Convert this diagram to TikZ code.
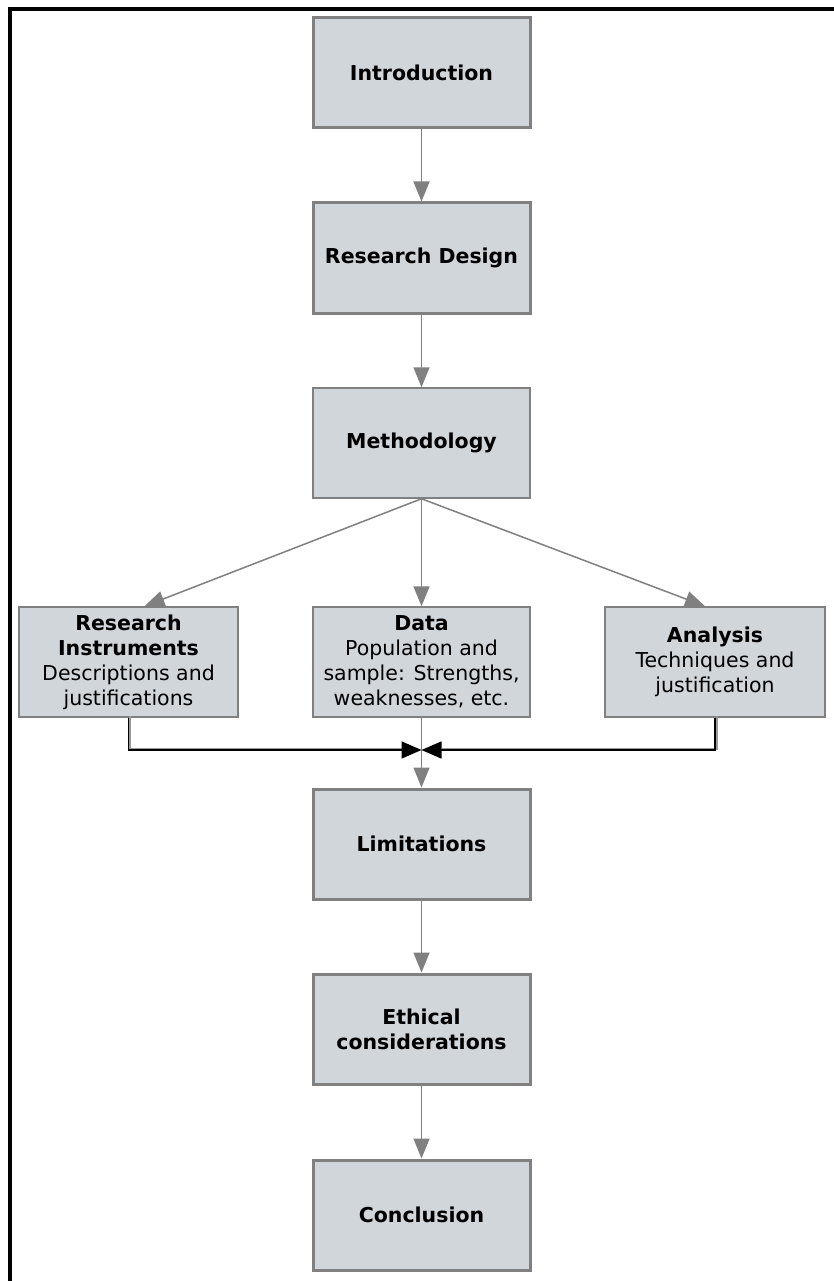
\documentclass[tikz,border=0pt]{standalone}
\usepackage{fontspec}
\setmainfont{DejaVu Sans}
\usetikzlibrary{arrows.meta}
\definecolor{boxfill}{RGB}{209,214,218}
\definecolor{boxline}{RGB}{128,128,128}
\definecolor{flowline}{RGB}{128,128,128}
\begin{document}
\begin{tikzpicture}[x=1pt,y=-1pt,
  stagebox/.style={draw=boxline, fill=boxfill, line width=3pt,
    minimum width=217pt, minimum height=110pt, inner sep=2pt,
    align=center, font=\fontsize{20.5}{25}\selectfont\bfseries},
  subbox/.style={draw=boxline, fill=boxfill, line width=1.5pt,
    minimum width=219pt, minimum height=110pt, inner sep=2pt,
    align=center, font=\fontsize{20.5}{25}\selectfont},
  flow/.style={draw=flowline, line width=1.5pt,
    -{Triangle[length=20pt,width=16pt]}},
  merge/.style={draw=black, line width=1.5pt,
    -{Triangle[length=20pt,width=17pt]}},
  mergeshadow/.style={draw=black!40, line width=2pt}
]
\useasboundingbox (0,0) rectangle (834,1281);
\fill[white] (0,0) rectangle (834,1281);

% outer frame (top and left edges)
\draw[line width=4pt] (9.5,1281) -- (9.5,9) -- (834,9);

% main column
\node[stagebox] (intro)  at (421.5,73)   {Introduction};
\node[stagebox] (design) at (421.5,258)  {Research Design};
\node[subbox, minimum width=217pt, font=\fontsize{20.5}{25}\selectfont\bfseries]
      (method) at (421.5,443) {Methodology};

% three branches
\node[subbox] (instr) at (128.5,662)
  {\textbf{Research}\\\textbf{Instruments}\\Descriptions and\\justifications};
\node[subbox, minimum width=217pt] (data) at (421.5,662)
  {\textbf{Data}\\Population and\\sample: Strengths,\\weaknesses, etc.};
\node[subbox, minimum width=220pt] (anal) at (715,662)
  {\textbf{Analysis}\\Techniques and\\justification};

\node[stagebox] (limit)  at (421.5,844)  {Limitations};
\node[stagebox] (ethic)  at (421.5,1029) {Ethical\\considerations};
\node[stagebox] (concl)  at (421.5,1215) {Conclusion};

\coordinate (join) at (421.5,750);

% connectors
\draw[flow] (intro.south) -- (design.north);
\draw[flow] (design.south) -- (method.north);
\draw[flow] (method.south) -- ([xshift=16pt]instr.north);
\draw[flow] (method.south) -- (data.north);
\draw[flow] (method.south) -- ([xshift=-10pt]anal.north);
\draw[flow] (data.south) -- (limit.north);
\draw[flow] (limit.south) -- (ethic.north);
\draw[flow] (ethic.south) -- (concl.north);

% merging connectors with their shadow
\draw[mergeshadow] ([shift={(1.5pt,1.5pt)}]instr.south) |- ([shift={(-20pt,1.5pt)}]join);
\draw[mergeshadow] ([shift={(1.5pt,1.5pt)}]anal.south) |- ([shift={(20pt,1.5pt)}]join);
\draw[merge] (instr.south) |- (join);
\draw[merge] (anal.south) |- (join);
\end{tikzpicture}
\end{document}
